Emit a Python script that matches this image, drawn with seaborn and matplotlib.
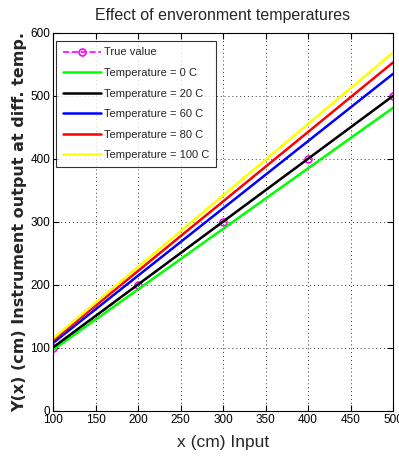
import numpy as np
import pandas as pd
import matplotlib
matplotlib.use("Agg")
import matplotlib.pyplot as plt
import seaborn as sns

# DATA
x_input = [100, 200, 300, 400, 500]
true_value = [100, 200, 300, 400, 500]
temp_labels = ["Temperature = 0 C", "Temperature = 20 C", "Temperature = 60 C",
               "Temperature = 80 C", "Temperature = 100 C"]
temp_colors = ["#00ff00", "#000000", "#0000ff", "#ff0000", "#ffff00"]
line_x = [100, 500]
temp_0 = [97, 481]
temp_20 = [101, 500]
temp_60 = [108, 535]
temp_80 = [112, 553]
temp_100 = [115, 569]
x_ticks = [100, 150, 200, 250, 300, 350, 400, 450, 500]
y_ticks = [0, 100, 200, 300, 400, 500, 600]

sns.set_theme(style="white")
plt.rcParams["font.family"] = ["Liberation Sans Narrow", "Liberation Sans", "DejaVu Sans"]

fig = plt.figure(figsize=(3.99, 4.57), dpi=100)
ax = fig.add_axes([0.133, 0.1007, 0.852, 0.8273])

# TRUE VALUE
sns.lineplot(x=x_input, y=true_value, ax=ax, color="#ff00ff", linewidth=1.2,
             linestyle="--", marker="o", markersize=5, markerfacecolor="none",
             markeredgecolor="#ff00ff", markeredgewidth=1.2, label="True value")

# TEMPERATURE LINES
for vals, lab, col in zip([temp_0, temp_20, temp_60, temp_80, temp_100],
                          temp_labels, temp_colors):
    sns.lineplot(x=line_x, y=vals, ax=ax, color=col, linewidth=1.8, label=lab)

ax.set_xlim(100, 500)
ax.set_ylim(0, 600)
ax.set_xticks(x_ticks)
ax.set_yticks(y_ticks)
ax.tick_params(direction="in", length=4, width=0.8, labelsize=8.5, pad=2,
               top=True, right=True, bottom=True, left=True, colors="black")
ax.grid(True, linestyle=(0, (1, 3)), color="#333333", linewidth=0.7)
for s in ax.spines.values():
    s.set_color("black")
    s.set_linewidth(0.8)

ax.set_title("Effect of enveronment temperatures", fontsize=11.5, pad=9)
ax.set_xlabel("x (cm) Input", fontsize=12.5, labelpad=7)
ax.set_ylabel("Y(x) (cm) Instrument output at diff. temp.", fontsize=11.5,
              fontweight="bold", labelpad=2, family=["DejaVu Sans"])

leg = ax.legend(loc="upper left", bbox_to_anchor=(0.003, 0.985), fontsize=8,
                frameon=True, fancybox=False, handlelength=3.4, borderpad=0.6,
                labelspacing=0.95, handletextpad=0.3, borderaxespad=0.2)
leg.get_frame().set_edgecolor("black")
leg.get_frame().set_linewidth(0.8)

fig.savefig("out.png", dpi=100)
